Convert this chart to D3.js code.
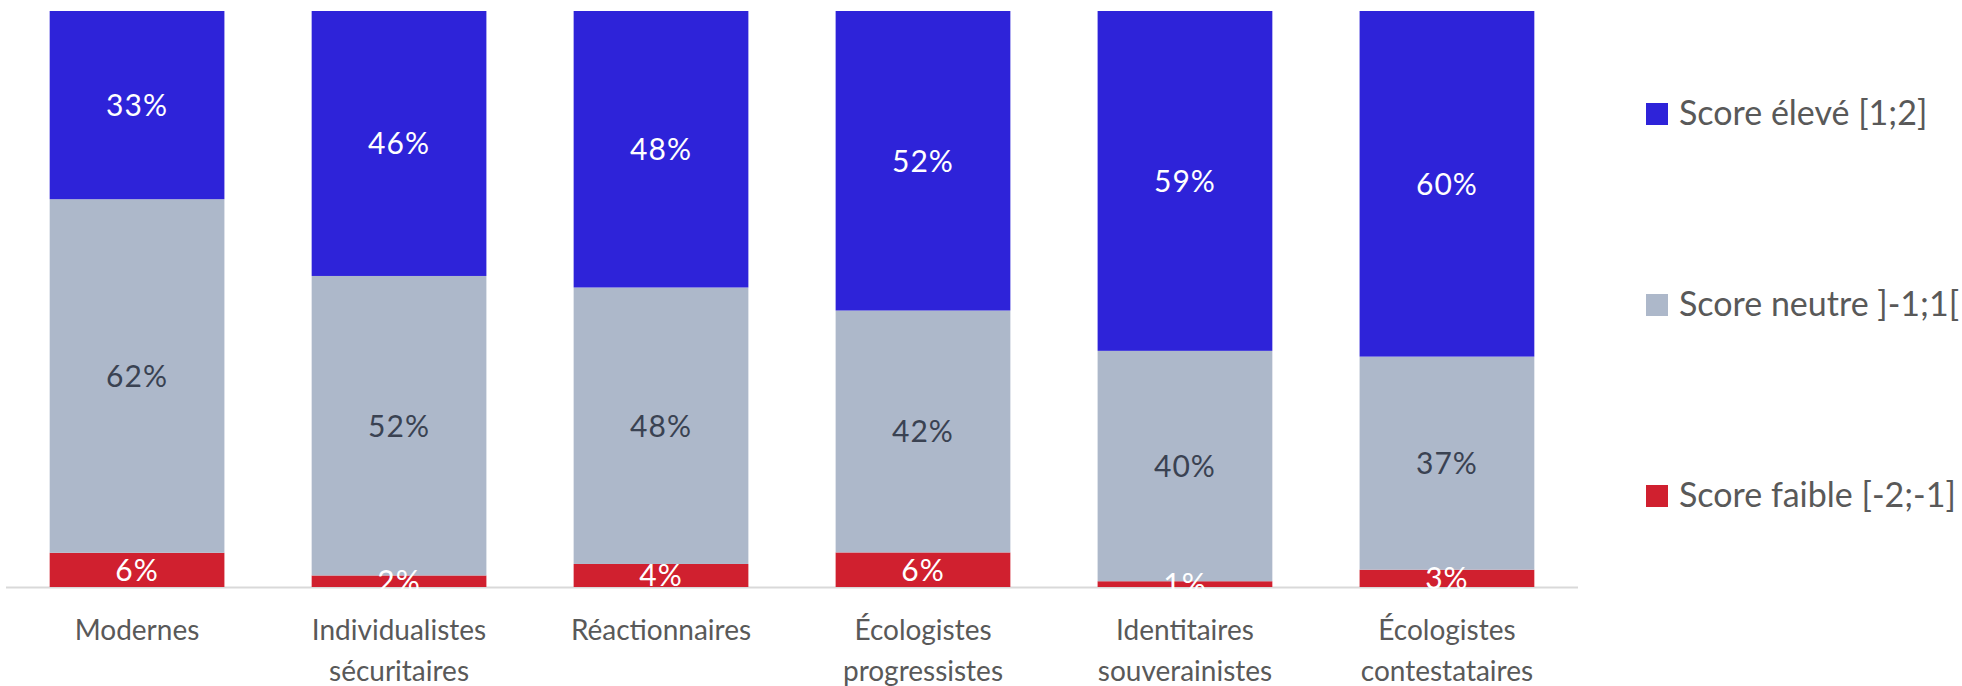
<!DOCTYPE html>
<html><head><meta charset="utf-8">
<script src="https://cdn.jsdelivr.net/npm/d3@7"></script>
<style>
html,body{margin:0;padding:0;background:#fff;}
svg{display:block;}
text{font-family:Lato,"Noto Sans",sans-serif;}
</style></head>
<body>
<svg id="chart" width="1962" height="686"></svg>
<script>
const categories = [
  ["Modernes"],
  ["Individualistes", "sécuritaires"],
  ["Réactionnaires"],
  ["Écologistes", "progressistes"],
  ["Identitaires", "souverainistes"],
  ["Écologistes", "contestataires"]
];
const seriesNames = ["Score faible [-2;-1]", "Score neutre ]-1;1[", "Score élevé [1;2]"];
const scoreFaible = [6, 2, 4, 6, 1, 3];
const scoreNeutre = [62, 52, 48, 42, 40, 37];
const scoreEleve  = [33, 46, 48, 52, 59, 60];
const seriesColors = ["#D0202F", "#ADB8CA", "#2E23D9"];
const labelColors  = ["#FFFFFF", "#3A4252", "#FFFFFF"];
const legendOrder = [2, 1, 0];

const svg = d3.select("#chart");
const keys = ["faible", "neutre", "eleve"];
const rows = categories.map((c, i) => ({
  idx: i, faible: scoreFaible[i], neutre: scoreNeutre[i], eleve: scoreEleve[i]
}));

const x = d3.scaleBand().domain(d3.range(categories.length))
  .range([6, 1578]).paddingInner(0.333).paddingOuter(0.1667);
const y = d3.scaleLinear().domain([0, 1]).range([587, 11]);

const stack = d3.stack().keys(keys).offset(d3.stackOffsetExpand);
const stacked = stack(rows);

// axis line
svg.append("line").attr("x1", 6).attr("x2", 1578).attr("y1", 587.5).attr("y2", 587.5)
  .attr("stroke", "#D9D9D9").attr("stroke-width", 2);

const groups = svg.selectAll("g.series").data(stacked).join("g")
  .attr("class", "series").attr("fill", (d, i) => seriesColors[i]);

groups.selectAll("rect").data(d => d).join("rect")
  .attr("x", d => x(d.data.idx))
  .attr("width", x.bandwidth())
  .attr("y", d => y(d[1]))
  .attr("height", d => y(d[0]) - y(d[1]));

// value labels
stacked.forEach((s, si) => {
  svg.append("g").selectAll("text").data(s).join("text")
    .attr("x", d => x(d.data.idx) + x.bandwidth() / 2)
    .attr("y", d => (y(d[0]) + y(d[1])) / 2)
    .attr("dy", "0.36em")
    .attr("text-anchor", "middle")
    .attr("font-size", 30)
    .attr("letter-spacing", 1)
    .attr("fill", labelColors[si])
    .text(d => d.data[keys[si]] + "%");
});

// x axis labels
const xl = svg.append("g").selectAll("text").data(categories).join("text")
  .attr("x", (d, i) => x(i) + x.bandwidth() / 2)
  .attr("y", 640)
  .attr("text-anchor", "middle")
  .attr("font-size", 28)
  .attr("fill", "#595959");
xl.each(function(lines) {
  const t = d3.select(this);
  lines.forEach((ln, j) => {
    t.append("tspan").attr("x", t.attr("x")).attr("dy", j === 0 ? 0 : 41).text(ln);
  });
});

// legend
const legendY = d3.scalePoint().domain(legendOrder).range([125, 507]);
const lg = svg.append("g").selectAll("g").data(legendOrder).join("g")
  .attr("transform", k => `translate(1646,${legendY(k)})`);
lg.append("rect").attr("x", 0).attr("y", -22).attr("width", 22).attr("height", 22)
  .attr("fill", k => seriesColors[k]);
lg.append("text").attr("x", 33).attr("y", 0)
  .attr("font-size", 34).attr("fill", "#595959")
  .text(k => seriesNames[k]);
</script>
</body></html>
